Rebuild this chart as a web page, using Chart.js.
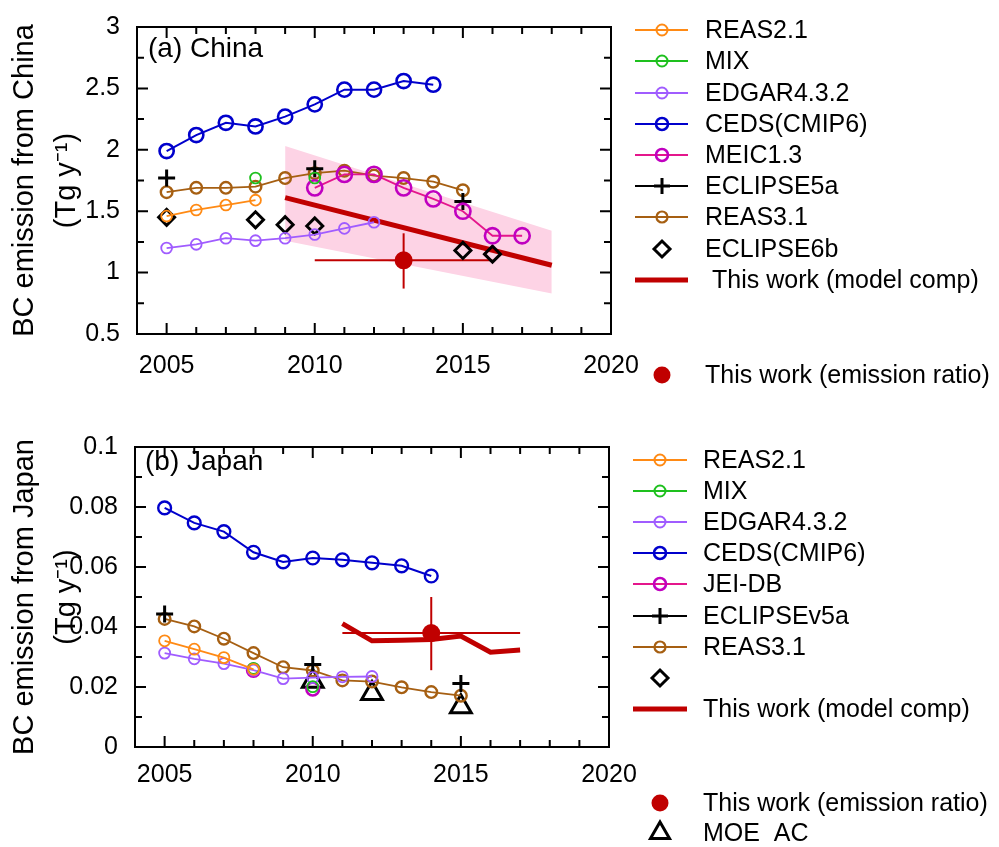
<!DOCTYPE html>
<html>
<head>
<meta charset="utf-8">
<script src="https://cdn.jsdelivr.net/npm/chart.js@4.4.1/dist/chart.umd.min.js"></script>
<style>
  body { margin: 0; background: #fff; }
  canvas { position: absolute; left: 0; }
  #china { top: 0; }
  #japan { top: 420px; }
</style>
</head>
<body>
<canvas id="china" width="999" height="420"></canvas>
<canvas id="japan" width="999" height="427"></canvas>
<script>
// ---- axis ticks ----
var xTickLabels = [2005, 2010, 2015, 2020]
var cnYLabels = ['0.5', '1', '1.5', '2', '2.5', '3']
var jpYLabels = ['0', '0.02', '0.04', '0.06', '0.08', '0.1']

// ---- China BC emission (Tg/y) ----
var cnReas21Years = [2005, 2006, 2007, 2008]
var cnReas21 = [1.46, 1.51, 1.55, 1.59]
var cnMixYears = [2008, 2009, 2010]
var cnMix = [1.77, null, 1.77]
var cnEdgarYears = [2005, 2006, 2007, 2008, 2009, 2010, 2011, 2012]
var cnEdgar = [1.20, 1.23, 1.28, 1.26, 1.28, 1.31, 1.36, 1.41]
var cnCedsYears = [2005, 2006, 2007, 2008, 2009, 2010, 2011, 2012, 2013, 2014]
var cnCeds = [1.99, 2.12, 2.22, 2.19, 2.27, 2.37, 2.49, 2.49, 2.56, 2.53]
var cnMeicYears = [2010, 2011, 2012, 2013, 2014, 2015, 2016, 2017]
var cnMeic = [1.69, 1.80, 1.80, 1.69, 1.60, 1.50, 1.30, 1.30]
var cnEclipse5Years = [2005, 2010, 2015]
var cnEclipse5 = [1.77, 1.845, 1.58]
var cnReas31Years = [2005, 2006, 2007, 2008, 2009, 2010, 2011, 2012, 2013, 2014, 2015]
var cnReas31 = [1.655, 1.69, 1.69, 1.70, 1.77, 1.81, 1.83, 1.79, 1.77, 1.74, 1.67]
var cnEclipse6Years = [2005, 2008, 2009, 2010, 2015, 2016]
var cnEclipse6 = [1.45, 1.43, 1.39, 1.38, 1.18, 1.15]
var cnModelYears = [2009, 2018]
var cnModel = [1.61, 1.06]
var cnModelHigh = [2.03, 1.34]
var cnModelLow = [1.26, 0.83]
var cnRatioYear = [2013]
var cnRatio = [1.10]
var cnRatioYearRange = [2010, 2016]
var cnRatioRange = [0.87, 1.32]

// ---- Japan BC emission (Tg/y) ----
var jpReas21Years = [2005, 2006, 2007, 2008]
var jpReas21 = [0.0354, 0.0326, 0.0298, 0.0259]
var jpMixYears = [2008, 2009, 2010]
var jpMix = [0.0262, null, 0.0201]
var jpEdgarYears = [2005, 2006, 2007, 2008, 2009, 2010, 2011, 2012]
var jpEdgar = [0.0313, 0.0294, 0.0278, 0.0256, 0.0228, 0.0231, 0.0234, 0.0235]
var jpCedsYears = [2005, 2006, 2007, 2008, 2009, 2010, 2011, 2012, 2013, 2014]
var jpCeds = [0.0797, 0.0747, 0.0718, 0.0649, 0.0617, 0.0630, 0.0624, 0.0614, 0.0604, 0.0570]
var jpJeiYears = [2008, 2009, 2010]
var jpJei = [0.0256, null, 0.0193]
var jpEclipse5Years = [2005, 2010, 2015]
var jpEclipse5 = [0.0443, 0.0275, 0.0212]
var jpReas31Years = [2005, 2006, 2007, 2008, 2009, 2010, 2011, 2012, 2013, 2014, 2015]
var jpReas31 = [0.0427, 0.0402, 0.0361, 0.0313, 0.0266, 0.0255, 0.0222, 0.0218, 0.0199, 0.0183, 0.0171]
var jpMoeYears = [2010, 2012, 2015]
var jpMoe = [0.0219, 0.0178, 0.0134]
var jpModelYears = [2011, 2012, 2013, 2014, 2015, 2016, 2017]
var jpModel = [0.0411, 0.0354, 0.0356, 0.0358, 0.0370, 0.0316, 0.0323]
var jpRatioYear = [2014]
var jpRatio = [0.038]
var jpRatioYearRange = [2011, 2017]
var jpRatioRange = [0.0256, 0.050]

var FONT = '"Liberation Sans", Arial, sans-serif'
var RED = '#c00000'
var ORANGE = '#ff8a14', GREEN = '#1ec01e', PURPLE = '#a05cff', BLUE = '#0000cc'
var MAGENTA = '#c000c0', PINK = '#e4168c', BROWN = '#a65f12'

function pts(xs, ys) {
    return xs.map(function (x, i) { return { x: x, y: ys[i] } })
}

/**
 * Line with hollow circle markers
 */
function circleLine(label, xs, ys, color, r, w, more) {
    return Object.assign({
        label: label, data: pts(xs, ys), borderColor: color, borderWidth: 1.8,
        pointStyle: 'circle', pointRadius: r, pointBorderWidth: w,
        pointBorderColor: color, pointBackgroundColor: 'rgba(0,0,0,0)',
        showLine: true, spanGaps: false, fill: false, tension: 0
    }, more || {})
}

/**
 * Markers only (no connecting line)
 */
function markers(label, xs, ys, style, r, w, color, fillColor) {
    return {
        label: label, data: pts(xs, ys), showLine: false, borderColor: color,
        pointStyle: style, pointRadius: r, pointBorderWidth: w, pointRotation: 0,
        pointBorderColor: color, pointBackgroundColor: fillColor || 'rgba(0,0,0,0)'
    }
}

function plainLine(label, xs, ys, color, width) {
    return { label: label, data: pts(xs, ys), borderColor: color, borderWidth: width, pointRadius: 0, showLine: true, fill: false, tension: 0 }
}

function labelFor(v, list) {
    for (var i = 0; i < list.length; i++) {
        if (Math.abs(Number(list[i]) - v) < 1e-9) return String(list[i])
    }
    return ''
}

// frame box with inward tick marks on all four sides
var frameTicks = {
    id: 'frameTicks',
    afterDatasetsDraw: function (chart) {
        var ctx = chart.ctx, a = chart.chartArea, x = chart.scales.x, y = chart.scales.y
        ctx.save()
        ctx.strokeStyle = '#000'
        ctx.lineWidth = 2
        ctx.beginPath()
        x.ticks.forEach(function (t) {
            var px = x.getPixelForValue(t.value), len = t.label ? 11 : 7
            ctx.moveTo(px, a.bottom); ctx.lineTo(px, a.bottom - len)
            ctx.moveTo(px, a.top); ctx.lineTo(px, a.top + len)
        })
        y.ticks.forEach(function (t) {
            var py = y.getPixelForValue(t.value), len = t.label ? 11 : 7
            ctx.moveTo(a.left, py); ctx.lineTo(a.left + len, py)
            ctx.moveTo(a.right, py); ctx.lineTo(a.right - len, py)
        })
        ctx.stroke()
        ctx.strokeRect(a.left, a.top, a.right - a.left, a.bottom - a.top)
        ctx.restore()
    }
}

function drawMarker(ctx, style, x, y, r, w, color, filled) {
    ctx.beginPath()
    if (style === 'circle') {
        ctx.arc(x, y, r, 0, Math.PI * 2)
    } else if (style === 'cross') {
        ctx.moveTo(x - r, y); ctx.lineTo(x + r, y)
        ctx.moveTo(x, y - r); ctx.lineTo(x, y + r)
    } else if (style === 'rectRot') {
        ctx.moveTo(x - r, y); ctx.lineTo(x, y - r); ctx.lineTo(x + r, y); ctx.lineTo(x, y + r); ctx.closePath()
    } else if (style === 'triangle') {
        ctx.moveTo(x, y - r)
        ctx.lineTo(x + r * Math.sin(Math.PI * 2 / 3), y + r / 2)
        ctx.lineTo(x - r * Math.sin(Math.PI * 2 / 3), y + r / 2)
        ctx.closePath()
    }
    if (filled) { ctx.fillStyle = color; ctx.fill() }
    if (w > 0) { ctx.lineWidth = w; ctx.strokeStyle = color; ctx.stroke() }
}

// legend drawn to the right of the plot, one row per item
var sideLegend = {
    id: 'sideLegend',
    afterDraw: function (chart, args, opts) {
        var ctx = chart.ctx
        ctx.save()
        opts.items.forEach(function (it) {
            var ds = chart.data.datasets.find(function (d) { return d.label === it.label })
            if (it.line) {
                ctx.beginPath()
                ctx.moveTo(opts.lineFrom, it.y); ctx.lineTo(opts.lineTo, it.y)
                ctx.lineWidth = it.lineWidth || 2
                ctx.strokeStyle = ds.borderColor
                ctx.stroke()
            }
            if (it.marker) {
                drawMarker(ctx, it.marker, opts.markX, it.y, it.r, it.w, ds.pointBorderColor, it.filled)
            }
            ctx.fillStyle = '#000'
            ctx.font = '25px ' + FONT
            ctx.textBaseline = 'middle'
            ctx.fillText(it.text !== undefined ? it.text : it.label, it.textX || opts.textX, it.y + 1)
        })
        ctx.restore()
    }
}

// panel tag like "(a) China"
var panelTag = {
    id: 'panelTag',
    afterDraw: function (chart, args, opts) {
        var ctx = chart.ctx
        ctx.save()
        ctx.fillStyle = '#000'
        ctx.font = '28px ' + FONT
        ctx.textBaseline = 'alphabetic'
        ctx.fillText(opts.text, opts.x, opts.y)
        ctx.restore()
    }
}

function makeChart(id, cfg) {
    return new Chart(document.getElementById(id), {
        type: 'line',
        data: { datasets: cfg.datasets },
        plugins: [frameTicks, sideLegend, panelTag],
        options: {
            responsive: false,
            animation: false,
            events: [],
            layout: { padding: { left: 0, top: cfg.area.top, right: 999 - cfg.area.right, bottom: 0 } },
            scales: {
                x: {
                    type: 'linear', min: 2004, max: 2020,
                    afterFit: function (s) { s.height = cfg.xAxisHeight },
                    border: { display: false },
                    grid: { display: false, drawTicks: false },
                    ticks: {
                        stepSize: 1, autoSkip: false, maxRotation: 0, padding: cfg.xPad,
                        color: '#000', font: { family: FONT, size: 25 },
                        callback: function (v) { return labelFor(v, xTickLabels) }
                    }
                },
                y: {
                    type: 'linear', min: cfg.yMin, max: cfg.yMax,
                    afterFit: function (s) { s.width = cfg.area.left },
                    border: { display: false },
                    grid: { display: false, drawTicks: false },
                    ticks: {
                        stepSize: cfg.yStep, autoSkip: false, padding: 17,
                        color: '#000', font: { family: FONT, size: 25, lineHeight: 0.8 },
                        callback: function (v) { return labelFor(v, cfg.yLabels) }
                    },
                    title: {
                        display: true, text: cfg.yTitle, color: '#000',
                        font: { family: FONT, size: 29, lineHeight: 1.45 },
                        padding: { top: 4, bottom: 0 }
                    }
                }
            },
            plugins: {
                legend: { display: false },
                tooltip: { enabled: false },
                sideLegend: cfg.legend,
                panelTag: cfg.tag
            }
        }
    })
}

// ---- (a) China ----
makeChart('china', {
    area: { left: 137, right: 611, top: 18 },
    xAxisHeight: 86, xPad: 17,
    yMin: 0.5, yMax: 3, yStep: 0.25, yLabels: cnYLabels,
    yTitle: ['BC emission from China', '(Tg y\u207B\u00B9)'],
    tag: { text: '(a) China', x: 148, y: 57 },
    datasets: [
        circleLine('REAS2.1', cnReas21Years, cnReas21, ORANGE, 5.4, 1.8),
        circleLine('MIX', cnMixYears, cnMix, GREEN, 5.4, 1.8),
        circleLine('EDGAR4.3.2', cnEdgarYears, cnEdgar, PURPLE, 5.4, 1.8),
        circleLine('CEDS(CMIP6)', cnCedsYears, cnCeds, BLUE, 7.1, 2.6, { borderWidth: 2 }),
        circleLine('MEIC1.3', cnMeicYears, cnMeic, PINK, 7.6, 2.6, { pointBorderColor: MAGENTA }),
        markers('ECLIPSE5a', cnEclipse5Years, cnEclipse5, 'cross', 8.5, 3, '#000'),
        circleLine('REAS3.1', cnReas31Years, cnReas31, BROWN, 5.8, 2.4),
        markers('ECLIPSE6b', cnEclipse6Years, cnEclipse6, 'rectRot', 8, 3, '#000'),
        plainLine('This work (model comp)', cnModelYears, cnModel, RED, 5),
        markers('This work (emission ratio)', cnRatioYear, cnRatio, 'circle', 9, 0, RED, RED),
        plainLine('ratio x range', cnRatioYearRange, [cnRatio[0], cnRatio[0]], RED, 2),
        plainLine('ratio y range', [cnRatioYear[0], cnRatioYear[0]], cnRatioRange, RED, 2),
        plainLine('model high', cnModelYears, cnModelHigh, 'rgba(0,0,0,0)', 0),
        plainLine('model low', cnModelYears, cnModelLow, 'rgba(0,0,0,0)', 0)
    ].map(function (d) {
        if (d.label === 'model high') { d.fill = '+1'; d.backgroundColor = '#fdd3e5' }
        return d
    }),
    legend: {
        lineFrom: 635, lineTo: 688, markX: 662, textX: 705,
        items: [
            { label: 'REAS2.1', y: 30, line: true, marker: 'circle', r: 5.5, w: 2 },
            { label: 'MIX', y: 61, line: true, marker: 'circle', r: 5.5, w: 2 },
            { label: 'EDGAR4.3.2', y: 93, line: true, marker: 'circle', r: 5.5, w: 2 },
            { label: 'CEDS(CMIP6)', y: 124, line: true, marker: 'circle', r: 6, w: 2.6 },
            { label: 'MEIC1.3', y: 155, line: true, marker: 'circle', r: 6, w: 2.6 },
            { label: 'ECLIPSE5a', y: 186, line: true, marker: 'cross', r: 8, w: 3 },
            { label: 'REAS3.1', y: 217, line: true, marker: 'circle', r: 5.5, w: 2.2 },
            { label: 'ECLIPSE6b', y: 249, marker: 'rectRot', r: 8, w: 3 },
            { label: 'This work (model comp)', y: 280, line: true, lineWidth: 5, textX: 712 },
            { label: 'This work (emission ratio)', y: 375, marker: 'circle', r: 8.5, w: 0, filled: true }
        ]
    }
})

// ---- (b) Japan ----
makeChart('japan', {
    area: { left: 135, right: 609, top: 11 },
    xAxisHeight: 100, xPad: 13,
    yMin: 0, yMax: 0.1, yStep: 0.01, yLabels: jpYLabels,
    yTitle: ['BC emission from Japan', '(Tg y\u207B\u00B9)'],
    tag: { text: '(b) Japan', x: 145, y: 50 },
    datasets: [
        circleLine('REAS2.1', jpReas21Years, jpReas21, ORANGE, 5.5, 1.8),
        circleLine('MIX', jpMixYears, jpMix, GREEN, 5.5, 1.8),
        circleLine('EDGAR4.3.2', jpEdgarYears, jpEdgar, PURPLE, 5.5, 1.8),
        circleLine('CEDS(CMIP6)', jpCedsYears, jpCeds, BLUE, 6.4, 2.4, { borderWidth: 2 }),
        circleLine('JEI-DB', jpJeiYears, jpJei, PINK, 6.4, 2.6, { pointBorderColor: MAGENTA }),
        markers('ECLIPSEv5a', jpEclipse5Years, jpEclipse5, 'cross', 8.5, 3, '#000'),
        circleLine('REAS3.1', jpReas31Years, jpReas31, BROWN, 5.8, 2.4),
        markers('', [], [], 'rectRot', 8, 3, '#000'),
        markers('MOE  AC', jpMoeYears, jpMoe, 'triangle', 12, 3, '#000'),
        markers('This work (emission ratio)', jpRatioYear, jpRatio, 'circle', 9, 0, RED, RED),
        plainLine('This work (model comp)', jpModelYears, jpModel, RED, 5),
        plainLine('ratio x range', jpRatioYearRange, [jpRatio[0], jpRatio[0]], RED, 2),
        plainLine('ratio y range', [jpRatioYear[0], jpRatioYear[0]], jpRatioRange, RED, 2)
    ],
    legend: {
        lineFrom: 633, lineTo: 687, markX: 660, textX: 703,
        items: [
            { label: 'REAS2.1', y: 40, line: true, marker: 'circle', r: 5.5, w: 2 },
            { label: 'MIX', y: 71, line: true, marker: 'circle', r: 5.5, w: 2 },
            { label: 'EDGAR4.3.2', y: 102, line: true, marker: 'circle', r: 5.5, w: 2 },
            { label: 'CEDS(CMIP6)', y: 133, line: true, marker: 'circle', r: 6, w: 2.6 },
            { label: 'JEI-DB', y: 164, line: true, marker: 'circle', r: 6, w: 2.6 },
            { label: 'ECLIPSEv5a', y: 196, line: true, marker: 'cross', r: 8, w: 3 },
            { label: 'REAS3.1', y: 227, line: true, marker: 'circle', r: 5.5, w: 2.2 },
            { label: '', y: 258, marker: 'rectRot', r: 8, w: 3 },
            { label: 'This work (model comp)', y: 289, line: true, lineWidth: 5 },
            { label: 'This work (emission ratio)', y: 383, marker: 'circle', r: 8.5, w: 0, filled: true },
            { label: 'MOE  AC', y: 413, marker: 'triangle', r: 11, w: 3 }
        ]
    }
})
</script>
</body>
</html>
